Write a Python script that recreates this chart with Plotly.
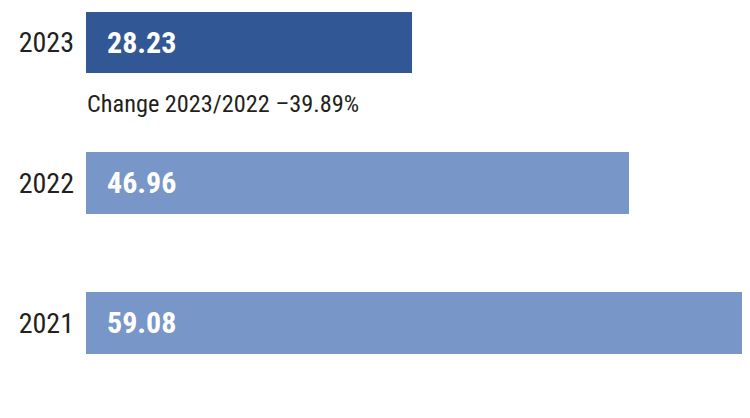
import plotly.graph_objects as go

# data
years = ["2021", "2022", "2023"]
values = [59.08, 46.96, 28.23]
bar_colors = ["#7896c8", "#7896c8", "#325795"]
change_label = "Change 2023/2022 \u201339.89%"

font_family = "Roboto Condensed, Liberation Sans Narrow, sans-serif"

fig = go.Figure()

fig.add_trace(
    go.Bar(
        x=values,
        y=years,
        orientation="h",
        width=0.44,
        marker=dict(color=bar_colors, line=dict(width=0)),
        hoverinfo="skip",
    )
)

# value labels inside the bars (category axis -> position by index)
for i, v in enumerate(values):
    fig.add_annotation(
        x=0, y=i, xref="x", yref="y",
        text="<b>%.2f</b>" % v,
        showarrow=False, xanchor="left", yanchor="middle",
        xshift=19,
        font=dict(family=font_family, size=30, color="white"),
    )

# change note under the 2023 bar
fig.add_annotation(
    x=0, y=1.568, xref="x", yref="y",
    text=change_label,
    showarrow=False, xanchor="left", yanchor="middle",
    xshift=-1,
    font=dict(family=font_family, size=24.3, color="#231f20"),
)

fig.update_xaxes(
    range=[0, 57.44],
    showgrid=False, zeroline=False, showticklabels=False, showline=False,
)
fig.update_yaxes(
    type="category",
    range=[-0.5714, 2.2464],
    showgrid=False, zeroline=False, showline=False,
    ticks="", ticklabelstandoff=11,
    tickfont=dict(family=font_family, size=28, color="#231f20"),
)

fig.update_layout(
    width=742, height=395,
    margin=dict(l=78, r=0, t=0, b=0),
    paper_bgcolor="white", plot_bgcolor="white",
    showlegend=False,
    bargap=0,
)

fig.write_html("out.html")
